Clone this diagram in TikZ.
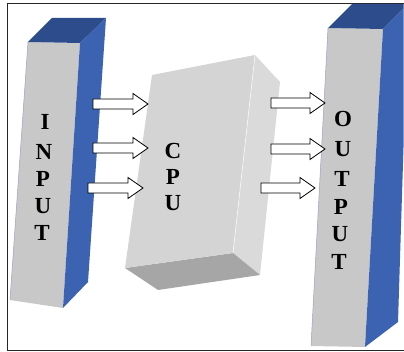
\documentclass[tikz,border=0pt]{standalone}
\usepackage{fontspec}
\setmainfont{Liberation Serif}
\definecolor{pfront}{RGB}{200,200,200}
\definecolor{pside}{RGB}{60,98,178}
\definecolor{ptop}{RGB}{44,76,140}
\definecolor{cfront}{RGB}{212,212,212}
\definecolor{cside}{RGB}{218,218,218}
\definecolor{cbottom}{RGB}{166,166,166}
\tikzset{
  letter/.style={font=\bfseries\fontsize{23}{23}\selectfont, inner sep=0pt, text=black},
  blockarrow/.style={draw=black, fill=white, line width=0.8pt, line join=miter},
  frameline/.style={draw=black!85, line width=0.9pt}
}
\newcommand\myarrow[3]{% x0, x1, y
  \draw[blockarrow] (#1,#3-5) -- (#2-15,#3-5) -- (#2-15,#3-10.5) -- (#2,#3)
    -- (#2-15,#3+10.5) -- (#2-15,#3+5) -- (#1,#3+5) -- cycle;}
\begin{document}
\begin{tikzpicture}[x=1pt,y=-1pt]
\useasboundingbox (0,0) rectangle (404,352);
\fill[white] (0,0) rectangle (404,352);
\draw[frameline] (404,3) -- (7,3) -- (7,350) -- (404,350);
% CPU box
\fill[cside] (255,55) -- (280,82) -- (260,275) -- (233,253) -- cycle;
\fill[cbottom] (125,268) -- (233,253) -- (260,275) -- (158,290) -- cycle;
\fill[cfront] (152,75) -- (255,55) -- (233,253) -- (125,268) -- cycle;
\draw[white!95!gray, line width=0.6pt] (255,55) -- (233,253);
% input pillar
\fill[pfront] (28,42) -- (80,43) -- (63,308) -- (10,300) -- cycle;
\fill[ptop] (28,42) -- (52,18) -- (106,18) -- (80,43) -- cycle;
\fill[pside] (80,43) -- (106,18) -- (88,282) -- (63,308) -- cycle;
\draw[blue!25!gray!60, line width=0.5pt] (28,42) -- (10,300);
% output pillar
\begin{scope}
\clip (7,3) rectangle (403.5,349.5);
\fill[pfront] (328,28) -- (383,29) -- (365,347) -- (311,346) -- cycle;
\fill[ptop] (328,28) -- (352,4) -- (408,4) -- (383,29) -- cycle;
\fill[pside] (383,29) -- (408,4) -- (398,322) -- (365,347) -- cycle;
\draw[blue!25!gray!60, line width=0.5pt] (328,28) -- (311,346);
\end{scope}
% arrows
\myarrow{93}{148}{104}
\myarrow{93}{148}{148}
\myarrow{88}{143}{188}
\myarrow{271}{325}{103}
\myarrow{271}{325}{149}
\myarrow{261}{315}{188}
% texts
\node[letter] (i1) at (45,122) {I};
\node[letter] (i2) at (44,152) {N};
\node[letter] (i3) at (43,179) {P};
\node[letter] (i4) at (43,206) {U};
\node[letter] (i5) at (42,233) {T};
\node[letter] (c1) at (173,151) {C};
\node[letter] (c2) at (173,177) {P};
\node[letter] (c3) at (173,203) {U};
\node[letter] (o1) at (343,119) {O};
\node[letter] (o2) at (343,149) {U};
\node[letter] (o3) at (342,179) {T};
\node[letter] (o4) at (341,207) {P};
\node[letter] (o5) at (340,234) {U};
\node[letter] (o6) at (339,262) {T};
\end{tikzpicture}
\end{document}
